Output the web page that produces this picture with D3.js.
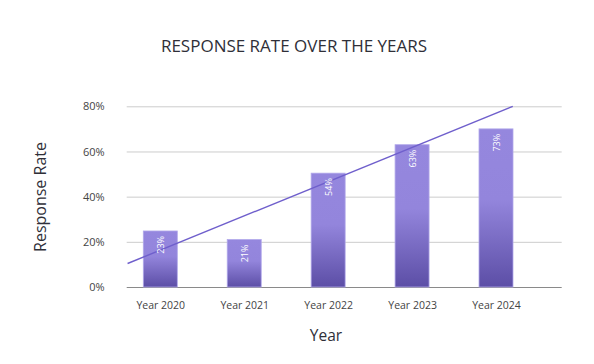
<!DOCTYPE html>
<html><head><meta charset="utf-8">
<script src="https://cdn.jsdelivr.net/npm/d3@7"></script>
<style>body{margin:0;background:#fff}text{font-family:"Open Sans",Lato,sans-serif}</style>
</head><body><svg id="c" width="594" height="364"></svg>
<script>
const categories = ["Year 2020","Year 2021","Year 2022","Year 2023","Year 2024"];
const barValues = [24.8, 21, 50.4, 63, 70];
const barLabels = ["23%","21%","54%","63%","73%"];
const yTicks = [0, 20, 40, 60, 80];
const trendIdx = [-0.39, 4.2];
const trendValues = [10.4, 80];

(function(){
const svg = d3.select("#c");
const pL = 126.7, pR = 561.7, pT = 106.3, pB = 287;
const x = d3.scalePoint().domain(categories).range([160.3, 496]);
const xi = d3.scaleLinear().domain([0, 4]).range([x(categories[0]), x(categories[4])]);
const y = d3.scaleLinear().domain([0, 80]).range([pB, pT]);
const bw = 34;

const defs = svg.append("defs");
const g = defs.append("linearGradient").attr("id","bg").attr("x1",0).attr("y1",0).attr("x2",0).attr("y2",1);
g.append("stop").attr("offset","0%").attr("stop-color","#9587de");
g.append("stop").attr("offset","45%").attr("stop-color","#9385dc");
g.append("stop").attr("offset","100%").attr("stop-color","#5c4ea6");

svg.append("text").attr("x",294).attr("y",52).attr("text-anchor","middle")
  .attr("font-size",17).attr("fill","#2f2f38").text("RESPONSE RATE OVER THE YEARS");

const yAxis = d3.axisLeft(y).tickValues(yTicks).tickFormat(d => d + "%").tickSize(-(pR-pL)).tickPadding(22);
const ya = svg.append("g").attr("transform",`translate(${pL},0)`).call(yAxis);
ya.select(".domain").remove();
ya.selectAll(".tick line").attr("stroke","#cccccc").attr("stroke-width",1);
ya.selectAll(".tick text").attr("font-size",11).attr("fill","#444").attr("x",-22);
ya.selectAll(".tick").filter(d => d === 0).select("line").attr("stroke","#8a8a8a").attr("stroke-width",1.2);

svg.selectAll("rect.bar").data(barValues).join("rect").attr("class","bar")
  .attr("x",(d,i)=>x(categories[i]) - bw/2).attr("width",bw)
  .attr("y",d=>y(d)).attr("height",d=>pB - y(d))
  .attr("fill","url(#bg)").attr("stroke","#b1a8ea").attr("stroke-width",0.8);

const line = d3.line().x(d=>xi(d[0])).y(d=>y(d[1]));
svg.append("path").datum(trendIdx.map((t,i)=>[t,trendValues[i]])).attr("d",line)
  .attr("stroke","#6f5fcc").attr("stroke-width",1.4).attr("fill","none");

svg.selectAll("text.lab").data(barValues).join("text").attr("class","lab")
  .attr("transform",(d,i)=>`translate(${x(categories[i])+3.5},${y(d)+5}) rotate(-90)`)
  .attr("text-anchor","end").attr("font-size",9).attr("fill","#fff").text((d,i)=>barLabels[i]);

const xAxis = d3.axisBottom(x).tickSize(0).tickPadding(15);
const xa = svg.append("g").attr("transform",`translate(0,${pB})`).call(xAxis);
xa.select(".domain").remove();
xa.selectAll(".tick text").attr("font-size",10.5).attr("fill","#444");

svg.append("text").attr("x",326).attr("y",341).attr("text-anchor","middle").attr("font-size",15.5).attr("fill","#2f2f38").text("Year");
svg.append("text").attr("transform","translate(46,197) rotate(-90)").attr("text-anchor","middle").attr("font-size",16).attr("fill","#2f2f38").text("Response Rate");
})();
</script></body></html>
